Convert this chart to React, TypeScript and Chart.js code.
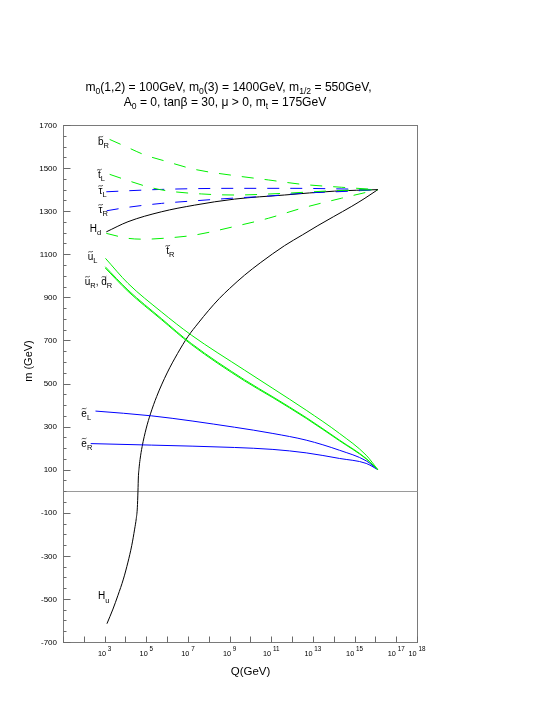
import { useEffect, useRef } from "react";
import { Chart, registerables } from "chart.js";

Chart.register(...registerables);

// ---- data: log10(Q/GeV) and running masses m (GeV) ----
const bR_e = [3.24, 4.06, 4.93, 5.89, 7.33, 9.24, 10.86, 12.44, 14.37, 16.12];
const bR_m = [1633, 1598, 1561, 1533, 1494, 1465, 1445, 1425, 1411, 1400];

const tL_e = [3.24, 4.28, 5.08, 5.96, 7.64, 9.24, 11.64, 14.04, 16.12];
const tL_m = [1471, 1437, 1413, 1395, 1380, 1375, 1383, 1395, 1400];

const tauL_e = [3.08, 5.72, 9.24, 12.0, 14.5, 16.12];
const tauL_m = [1390, 1401, 1406, 1406, 1403, 1400];

const tauR_e = [3.1, 4.12, 5.72, 7.32, 9.24, 10.86, 12.44, 14.84, 16.12];
const tauR_m = [1302, 1318, 1336, 1348, 1361, 1370, 1383, 1393, 1400];

const Hd_e = [3.08, 4.12, 5.72, 7.32, 9.24, 11.64, 14.04, 16.12];
const Hd_m = [1204, 1251, 1297, 1328, 1356, 1375, 1393, 1400];

const tR_e = [3.08, 4.12, 4.92, 6.2, 7.32, 9.24, 10.86, 12.44, 14.37, 16.12];
const tR_m = [1197, 1174, 1170, 1177, 1189, 1229, 1267, 1313, 1360, 1400];

const uL_e = [3.04, 4.12, 5.72, 7.16, 9.72, 11.08, 12.68, 14.28, 15.56, 16.12];
const uL_m = [1081, 965, 833, 725, 562, 477, 376, 268, 167, 100];

const uR_e = [3.03, 4.12, 5.72, 7.16, 9.72, 11.08, 12.68, 14.28, 15.56, 16.12];
const uR_m = [1042, 934, 802, 686, 517, 438, 342, 237, 152, 100];

const dR_e = [3.03, 4.12, 5.72, 7.16, 9.72, 11.08, 12.68, 14.28, 15.56, 16.12];
const dR_m = [1036, 928, 797, 681, 512, 434, 338, 234, 150, 100];

const eL_e = [2.56, 5.24, 9.24, 11.08, 12.68, 14.28, 15.56, 16.12];
const eL_m = [372, 350, 297, 268, 237, 190, 141, 100];

const eR_e = [2.33, 5.24, 9.24, 11.08, 12.68, 14.28, 15.56, 16.12];
const eR_m = [221, 214, 203, 194, 178, 152, 129, 100];

const Hu_e = [3.11, 3.4, 3.64, 3.9, 4.12, 4.3, 4.44, 4.52, 4.57, 4.6, 4.62, 4.65, 4.7, 4.8, 5.0, 5.2, 5.5, 6.0, 6.5, 7.0, 7.5, 8.0, 8.5, 9.0, 9.72, 10.5, 11.64, 12.5, 13.24, 14.0, 14.84, 15.5, 16.12];
const Hu_m = [-615, -547, -483, -408, -329, -253, -176, -126, -77, 0, 66, 104, 147, 207, 293, 359, 440, 549, 639, 718, 781, 840, 894, 941, 1003, 1062, 1140, 1190, 1233, 1275, 1321, 1360, 1400];

// ---- axes / text ----
const X_MIN = 10;
const X_MAX = 1e18;
const Y_MIN = -700;
const Y_MAX = 1700;
const Y_TICK_LABELS = [1700, 1500, 1300, 1100, 900, 700, 500, 300, 100, -100, -300, -500, -700];
const X_TICK_EXPONENTS = [3, 5, 7, 9, 11, 13, 15, 17, 18];
const TITLE_LINES = [
  "m_0(1,2) = 100GeV, m_0(3) = 1400GeV, m_{1/2} = 550GeV,",
  "A_0 = 0, tanβ = 30, μ > 0, m_t = 175GeV",
];
const X_TITLE = "Q(GeV)";
const Y_TITLE = "m (GeV)";

// curve labels: text with ~ (tilde) and _ (subscript), anchored in data coords (log10 Q, m)
const LABEL_TEXT = ["~b_R", "~t_L", "~τ_L", "~τ_R", "H_d", "~t_R", "~u_L", "~u_R, ~d_R", "~e_L", "~e_R", "H_u"];
const LABEL_E = [2.68, 2.68, 2.71, 2.71, 2.28, 5.96, 2.19, 2.04, 1.88, 1.88, 2.68];
const LABEL_M = [1607, 1454, 1379, 1291, 1204, 1101, 1073, 957, 345, 206, -502];

const GREEN = "#00f000";
const BLUE = "#0000ff";
const BLACK = "#000000";
const FONT = "'Liberation Sans', Arial, Helvetica, sans-serif";

const SERIES = [
  { name: "bR", e: bR_e, m: bR_m, color: GREEN, dash: true },
  { name: "tL", e: tL_e, m: tL_m, color: GREEN, dash: true },
  { name: "tauL", e: tauL_e, m: tauL_m, color: BLUE, dash: true },
  { name: "tauR", e: tauR_e, m: tauR_m, color: BLUE, dash: true },
  { name: "Hd", e: Hd_e, m: Hd_m, color: BLACK, dash: false },
  { name: "tR", e: tR_e, m: tR_m, color: GREEN, dash: true },
  { name: "uL", e: uL_e, m: uL_m, color: GREEN, dash: false },
  { name: "uR", e: uR_e, m: uR_m, color: GREEN, dash: false },
  { name: "dR", e: dR_e, m: dR_m, color: GREEN, dash: false },
  { name: "eL", e: eL_e, m: eL_m, color: BLUE, dash: false },
  { name: "eR", e: eR_e, m: eR_m, color: BLUE, dash: false },
  { name: "Hu", e: Hu_e, m: Hu_m, color: BLACK, dash: false },
];

type Seg = { t: string; mode: "n" | "sub" | "sup"; tilde?: boolean };

function parseRich(s: string): Seg[] {
  const out: Seg[] = [];
  let i = 0;
  while (i < s.length) {
    const c = s[i];
    if (c === "~") {
      out.push({ t: s[i + 1], mode: "n", tilde: true });
      i += 2;
      continue;
    }
    if (c === "_" || c === "^") {
      const mode = c === "_" ? "sub" : "sup";
      let t: string;
      if (s[i + 1] === "{") {
        const j = s.indexOf("}", i);
        t = s.slice(i + 2, j);
        i = j + 1;
      } else {
        t = s[i + 1];
        i += 2;
      }
      out.push({ t, mode });
      continue;
    }
    const last = out[out.length - 1];
    if (last && last.mode === "n" && !last.tilde) last.t += c;
    else out.push({ t: c, mode: "n" });
    i++;
  }
  return out;
}

function drawTilde(ctx: CanvasRenderingContext2D, cx: number, ty: number, color: string) {
  ctx.save();
  ctx.strokeStyle = color;
  ctx.lineWidth = 0.8;
  ctx.setLineDash([]);
  ctx.beginPath();
  ctx.moveTo(cx - 2.4, ty + 0.6);
  ctx.bezierCurveTo(cx - 1.2, ty - 1.4, cx + 1.2, ty + 1.4, cx + 2.4, ty - 0.6);
  ctx.stroke();
  ctx.restore();
}

function richWidth(ctx: CanvasRenderingContext2D, segs: Seg[], size: number, subSize: number) {
  let w = 0;
  for (const s of segs) {
    ctx.font = `${s.mode === "n" ? size : subSize}px ${FONT}`;
    w += ctx.measureText(s.t).width;
  }
  return w;
}

function drawRich(
  ctx: CanvasRenderingContext2D,
  text: string,
  x: number,
  y: number,
  size: number,
  subSize: number,
  align: "left" | "center",
  color = "#000"
) {
  const segs = parseRich(text);
  const total = richWidth(ctx, segs, size, subSize);
  let cx = align === "center" ? x - total / 2 : x;
  ctx.save();
  ctx.fillStyle = color;
  ctx.textAlign = "left";
  ctx.textBaseline = "alphabetic";
  for (const s of segs) {
    const sz = s.mode === "n" ? size : subSize;
    ctx.font = `${sz}px ${FONT}`;
    const w = ctx.measureText(s.t).width;
    let dy = 0;
    if (s.mode === "sub") dy = size * 0.32;
    if (s.mode === "sup") dy = -size * 0.45;
    ctx.fillText(s.t, cx, y + dy);
    if (s.tilde) drawTilde(ctx, cx + w / 2, y - size * 0.83, "#333");
    cx += w;
  }
  ctx.restore();
}

const framePlugin = {
  id: "frame",
  beforeDatasetsDraw(chart: any) {
    const { ctx, chartArea: a, scales } = chart;
    const xs = scales.x;
    const ys = scales.y;
    const L = Math.round(a.left) + 0.5;
    const R = Math.round(a.right) + 0.5;
    const T = Math.round(a.top) + 0.5;
    const B = Math.round(a.bottom) + 0.5;
    ctx.save();
    ctx.strokeStyle = "#7a7a7a";
    ctx.lineWidth = 1;
    ctx.strokeRect(L, T, R - L, B - T);
    const line = (x1: number, y1: number, x2: number, y2: number) => {
      ctx.beginPath();
      ctx.moveTo(x1, y1);
      ctx.lineTo(x2, y2);
      ctx.stroke();
    };
    // zero line
    ctx.strokeStyle = "#9a9a9a";
    const y0 = Math.round(ys.getPixelForValue(0)) + 0.5;
    line(L, y0, R, y0);
    // y ticks (inside)
    ctx.strokeStyle = "#6a6a6a";
    for (let v = Y_MIN; v <= Y_MAX; v += 50) {
      const py = Math.round(ys.getPixelForValue(v)) + 0.5;
      const len = Y_TICK_LABELS.includes(v) ? 7 : 3;
      line(L, py, L + len, py);
    }
    // x ticks (decades, inside)
    for (let k = 1; k <= 18; k++) {
      const px = Math.round(xs.getPixelForValue(Math.pow(10, k))) + 0.5;
      line(px, B, px, B - 6);
    }
    // y tick labels
    ctx.fillStyle = "#000";
    ctx.font = `8px ${FONT}`;
    ctx.textAlign = "right";
    ctx.textBaseline = "middle";
    for (const v of Y_TICK_LABELS) {
      ctx.fillText(String(v), L - 6.5, ys.getPixelForValue(v) + 0.5);
    }
    // x tick labels 10^n
    for (const k of X_TICK_EXPONENTS) {
      const px = xs.getPixelForValue(Math.pow(10, k));
      ctx.font = `7.3px ${FONT}`;
      const wb = ctx.measureText("10").width;
      ctx.font = `6.3px ${FONT}`;
      const we = ctx.measureText(String(k)).width;
      const gap = 1.8;
      const x0 = px - (wb + gap + we) / 2;
      ctx.textAlign = "left";
      ctx.textBaseline = "alphabetic";
      ctx.font = `7.3px ${FONT}`;
      ctx.fillText("10", x0, 655.5);
      ctx.font = `6.3px ${FONT}`;
      ctx.fillText(String(k), x0 + wb + gap, 651);
    }
    // axis titles
    ctx.font = `11.5px ${FONT}`;
    ctx.textAlign = "center";
    ctx.textBaseline = "alphabetic";
    ctx.fillText(X_TITLE, (L + R) / 2 + 10, 675);
    ctx.save();
    ctx.translate(31.5, 361);
    ctx.rotate(-Math.PI / 2);
    ctx.font = `11px ${FONT}`;
    ctx.fillText(Y_TITLE, 0, 0);
    ctx.restore();
    ctx.restore();
  },
  afterDraw(chart: any) {
    const { ctx, scales } = chart;
    const xs = scales.x;
    const ys = scales.y;
    // title
    drawRich(ctx, TITLE_LINES[0], 228.5, 90.5, 12.1, 8.6, "center");
    drawRich(ctx, TITLE_LINES[1], 225, 105.5, 12.1, 8.6, "center");
    // curve labels
    LABEL_TEXT.forEach((t, i) => {
      const px = xs.getPixelForValue(Math.pow(10, LABEL_E[i]));
      const py = ys.getPixelForValue(LABEL_M[i]);
      drawRich(ctx, t, px, py, 10, 7.5, "left");
    });
  },
};

export default function App() {
  const ref = useRef<HTMLCanvasElement>(null);
  useEffect(() => {
    document.body.style.margin = "0";
    const canvas = ref.current!;
    const datasets = SERIES.map((s) => ({
      label: s.name,
      data: s.e.map((e, i) => ({ x: Math.pow(10, e), y: s.m[i] })),
      borderColor: s.color,
      backgroundColor: s.color,
      borderWidth: 1,
      borderDash: s.dash ? [12, 11] : [],
      pointRadius: 0,
      fill: false,
      cubicInterpolationMode: "monotone" as const,
    }));
    const chart = new Chart(canvas, {
      type: "line",
      data: { datasets },
      options: {
        responsive: false,
        animation: false,
        layout: { padding: { left: 63, right: 128, top: 125, bottom: 63 } },
        plugins: { legend: { display: false }, tooltip: { enabled: false }, title: { display: false } },
        scales: {
          x: { type: "logarithmic", min: X_MIN, max: X_MAX, display: false },
          y: { type: "linear", min: Y_MIN, max: Y_MAX, display: false },
        },
      },
      plugins: [framePlugin],
    });
    return () => chart.destroy();
  }, []);
  return (
    <div style={{ width: 545, height: 705, background: "#fff" }}>
      <canvas ref={ref} width={545} height={705} style={{ display: "block" }} />
    </div>
  );
}
